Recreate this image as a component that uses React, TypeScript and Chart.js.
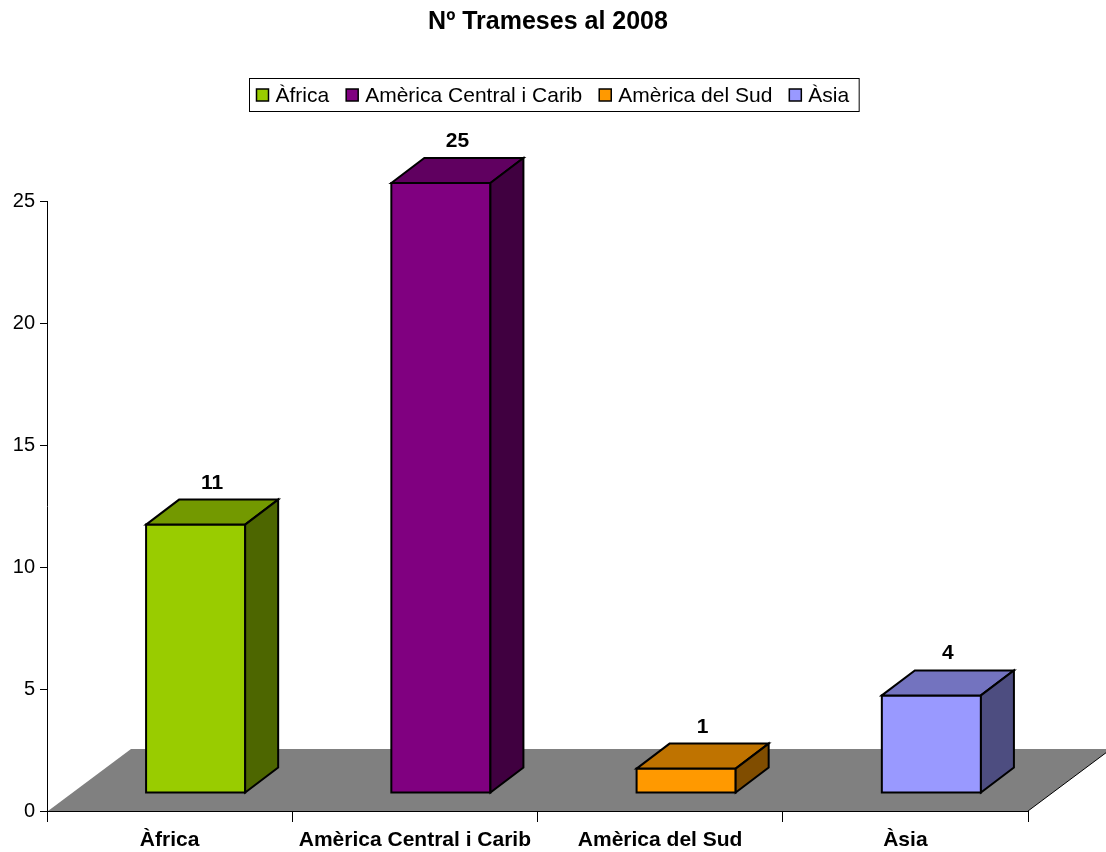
import React, { useEffect, useRef } from "react";
import { Chart, registerables } from "chart.js";

Chart.register(...registerables);

// ---- data ----
const titleText = "Nº Trameses al 2008";
const categories = ["Àfrica", "Amèrica Central i Carib", "Amèrica del Sud", "Àsia"];
const values = [11, 25, 1, 4];
const frontColors = ["#99CC00", "#800080", "#FF9900", "#9999FF"];
const topColors = ["#739900", "#600060", "#BF7300", "#7373BF"];
const sideColors = ["#4D6600", "#400040", "#804D00", "#4D4D80"];
const yTicks = [0, 5, 10, 15, 20, 25];

// ---- layout / style constants ----
const FONT = '"Liberation Sans", Arial, Helvetica, sans-serif';
const FRONT_DX = 26;
const FRONT_DY = -18;
const DEPTH_DX = 33;
const DEPTH_DY = -25;
const FLOOR_DX = 83;
const FLOOR_DY = -62;

const threeDPlugin = {
  id: "threeD",
  beforeDraw(chart: any) {
    const { ctx, chartArea: a } = chart;
    const y0 = chart.scales.y.getPixelForValue(0);
    ctx.save();
    // floor
    ctx.fillStyle = "#808080";
    ctx.beginPath();
    ctx.moveTo(a.left + 1, y0);
    ctx.lineTo(a.right, y0);
    ctx.lineTo(a.right + FLOOR_DX, y0 + FLOOR_DY);
    ctx.lineTo(a.left + 1 + FLOOR_DX, y0 + FLOOR_DY);
    ctx.closePath();
    ctx.fill();
    ctx.strokeStyle = "#000";
    ctx.lineWidth = 1;
    ctx.beginPath();
    ctx.moveTo(a.right, y0);
    ctx.lineTo(a.right + FLOOR_DX, y0 + FLOOR_DY);
    ctx.stroke();

    // title
    ctx.fillStyle = "#000";
    ctx.font = `bold 25px ${FONT}`;
    ctx.textAlign = "center";
    ctx.textBaseline = "alphabetic";
    ctx.fillText(titleText, 548, 29);

    // legend
    ctx.font = `21px ${FONT}`;
    const box = 12;
    const boxGap = 7;
    const itemGap = 17;
    const padL = 7;
    const padR = 10;
    const widths = categories.map((c) => ctx.measureText(c).width);
    const total =
      padL + padR + widths.reduce((s, w) => s + box + boxGap + w, 0) + itemGap * (categories.length - 1);
    const cx = 554;
    const fl = Math.round(cx - total / 2) + 0.5;
    const ft = 78.5;
    const fh = 33;
    ctx.fillStyle = "#fff";
    ctx.fillRect(fl, ft, total, fh);
    ctx.strokeStyle = "#000";
    ctx.lineWidth = 1;
    ctx.strokeRect(fl, ft, total, fh);
    let x = fl + padL;
    ctx.textAlign = "left";
    categories.forEach((c, i) => {
      ctx.fillStyle = frontColors[i];
      ctx.fillRect(x, 89, box, box);
      ctx.lineWidth = 1.5;
      ctx.strokeStyle = "#000";
      ctx.strokeRect(x, 89, box, box);
      ctx.fillStyle = "#000";
      ctx.fillText(c, x + box + boxGap, 102);
      x += box + boxGap + widths[i] + itemGap;
    });
    ctx.restore();
  },
  afterDatasetsDraw(chart: any) {
    const { ctx } = chart;
    const meta = chart.getDatasetMeta(0);
    ctx.save();
    ctx.lineWidth = 2;
    ctx.lineJoin = "miter";
    ctx.strokeStyle = "#000";
    meta.data.forEach((bar: any, i: number) => {
      const { x, y, base, width } = bar.getProps(["x", "y", "base", "width"], true);
      const l = x - width / 2 + FRONT_DX;
      const r = x + width / 2 + FRONT_DX;
      const t = y + FRONT_DY;
      const b = base + FRONT_DY;
      // front
      ctx.fillStyle = frontColors[i];
      ctx.beginPath();
      ctx.rect(l, t, r - l, b - t);
      ctx.fill();
      ctx.stroke();
      // top
      ctx.fillStyle = topColors[i];
      ctx.beginPath();
      ctx.moveTo(l, t);
      ctx.lineTo(l + DEPTH_DX, t + DEPTH_DY);
      ctx.lineTo(r + DEPTH_DX, t + DEPTH_DY);
      ctx.lineTo(r, t);
      ctx.closePath();
      ctx.fill();
      ctx.stroke();
      // side
      ctx.fillStyle = sideColors[i];
      ctx.beginPath();
      ctx.moveTo(r, t);
      ctx.lineTo(r + DEPTH_DX, t + DEPTH_DY);
      ctx.lineTo(r + DEPTH_DX, b + DEPTH_DY);
      ctx.lineTo(r, b);
      ctx.closePath();
      ctx.fill();
      ctx.stroke();
      // value label
      ctx.fillStyle = "#000";
      ctx.font = `bold 21px ${FONT}`;
      ctx.textAlign = "center";
      ctx.textBaseline = "alphabetic";
      ctx.fillText(String(values[i]), (l + r) / 2 + DEPTH_DX / 2, t + DEPTH_DY - 11);
    });
    ctx.restore();
  },
};

export default function App() {
  const canvasRef = useRef<HTMLCanvasElement | null>(null);

  useEffect(() => {
    document.body.style.margin = "0";
    const canvas = canvasRef.current;
    if (!canvas) return;
    const chart = new Chart(canvas, {
      type: "bar",
      data: {
        labels: categories,
        datasets: [
          {
            label: titleText,
            data: values,
            backgroundColor: "rgba(0,0,0,0)",
            borderWidth: 0,
            categoryPercentage: 1,
            barPercentage: 0.404,
          },
        ],
      },
      options: {
        animation: false,
        responsive: true,
        maintainAspectRatio: false,
        layout: { padding: { top: 201, right: 78, bottom: 0, left: 0 } },
        plugins: {
          legend: { display: false },
          title: { display: false },
          tooltip: { enabled: false },
        },
        scales: {
          x: {
            type: "category",
            grid: {
              offset: true,
              drawOnChartArea: false,
              drawTicks: true,
              tickLength: 11,
              color: "#000",
              lineWidth: 1,
            },
            border: { display: true, color: "#000", width: 1 },
            ticks: {
              color: "#000",
              font: { family: FONT, size: 21, weight: "bold" },
              padding: 6,
              maxRotation: 0,
              autoSkip: false,
            },
            afterFit: (s: any) => {
              s.height = 41;
            },
          },
          y: {
            min: yTicks[0],
            max: yTicks[yTicks.length - 1],
            afterBuildTicks: (s: any) => {
              s.ticks = yTicks.map((v) => ({ value: v }));
            },
            ticks: {
              color: "#000",
              font: { family: FONT, size: 20 },
              padding: 5,
            },
            grid: {
              drawOnChartArea: false,
              drawTicks: true,
              tickLength: 7,
              color: "#000",
            },
            border: { display: true, color: "#000", width: 1 },
            afterFit: (s: any) => {
              s.width = 47;
            },
          },
        },
      },
      plugins: [threeDPlugin],
    });
    return () => chart.destroy();
  }, []);

  return (
    <div style={{ position: "relative", width: 1106, height: 852 }}>
      <canvas ref={canvasRef} />
    </div>
  );
}
